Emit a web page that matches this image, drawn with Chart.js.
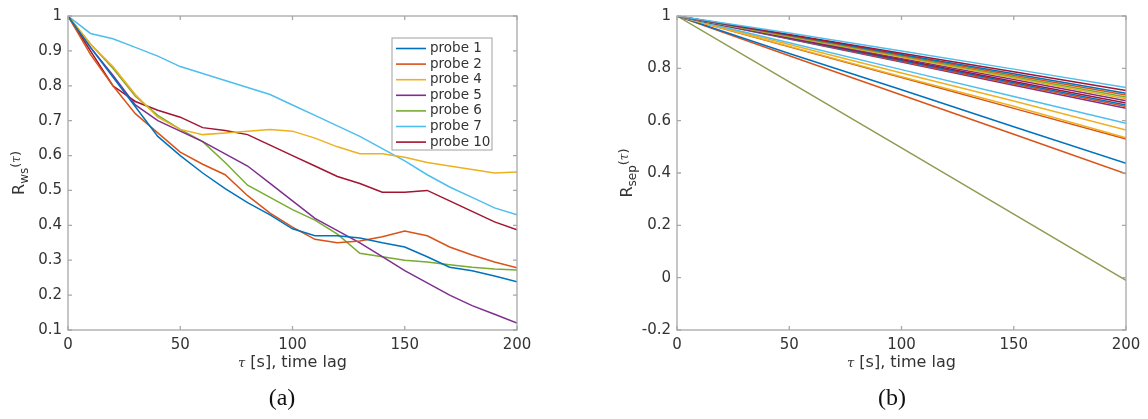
<!DOCTYPE html>
<html><head><meta charset="utf-8">
<script src="https://cdn.jsdelivr.net/npm/chart.js@4.4.0/dist/chart.umd.min.js"></script>
<style>
html,body{margin:0;padding:0;background:#fff;width:1148px;height:419px;overflow:hidden}
.c{position:absolute;top:0;width:574px;height:419px}
</style></head><body>
<div class="c" style="left:0"><canvas id="ca" width="574" height="419"></canvas></div>
<div class="c" style="left:574px"><canvas id="cb" width="574" height="419"></canvas></div>
<script>
// ---------- DATA ----------
const tau = [0,10,20,30,40,50,60,70,80,90,100,110,120,130,140,150,160,170,180,190,200];
const probeLabels = ['probe 1','probe 2','probe 4','probe 5','probe 6','probe 7','probe 10'];
const probe1  = [1,0.91,0.825,0.74,0.655,0.60,0.55,0.505,0.465,0.43,0.39,0.37,0.37,0.364,0.35,0.338,0.31,0.28,0.27,0.255,0.238];
const probe2  = [1,0.89,0.80,0.72,0.665,0.61,0.575,0.545,0.485,0.435,0.395,0.36,0.35,0.355,0.367,0.384,0.37,0.338,0.315,0.295,0.278];
const probe4  = [1,0.92,0.855,0.775,0.71,0.675,0.66,0.665,0.67,0.675,0.67,0.65,0.625,0.605,0.605,0.595,0.58,0.57,0.56,0.55,0.553];
const probe5  = [1,0.91,0.83,0.745,0.70,0.67,0.64,0.605,0.57,0.52,0.47,0.42,0.385,0.35,0.31,0.27,0.235,0.20,0.17,0.145,0.12];
const probe6  = [1,0.92,0.85,0.77,0.715,0.675,0.64,0.58,0.515,0.48,0.445,0.415,0.375,0.32,0.31,0.30,0.295,0.287,0.28,0.275,0.272];
const probe7  = [1,0.95,0.935,0.91,0.885,0.855,0.835,0.815,0.795,0.775,0.745,0.715,0.685,0.655,0.62,0.585,0.545,0.51,0.48,0.45,0.43];
const probe10 = [1,0.90,0.80,0.755,0.73,0.71,0.68,0.672,0.66,0.63,0.60,0.57,0.54,0.52,0.495,0.495,0.50,0.47,0.44,0.41,0.387];

const tauSep = [0,50,100,150,200];
const sepValues = [
  [1,0.935,0.866,0.797,0.727],
  [1,0.929,0.858,0.787,0.715],
  [1,0.927,0.853,0.779,0.705],
  [1,0.925,0.850,0.774,0.698],
  [1,0.923,0.846,0.768,0.690],
  [1,0.921,0.842,0.763,0.684],
  [1,0.919,0.838,0.757,0.676],
  [1,0.917,0.834,0.750,0.667],
  [1,0.915,0.830,0.745,0.660],
  [1,0.914,0.827,0.740,0.654],
  [1,0.912,0.824,0.735,0.647],
  [1,0.898,0.795,0.692,0.590],
  [1,0.891,0.782,0.675,0.564],
  [1,0.884,0.768,0.655,0.535],
  [1,0.882,0.765,0.647,0.530],
  [1,0.857,0.718,0.577,0.437],
  [1,0.848,0.698,0.548,0.397],
  [1,0.748,0.496,0.243,-0.01]
];
const xTicksA = {min:0,max:200,step:50};
const yTicksA = {min:0.1,max:1,step:0.1};
const yTicksB = {min:-0.2,max:1,step:0.2};

// ---------- STYLE ----------
const C = {blue:'#0072BD',orange:'#D95319',yellow:'#EDB120',purple:'#7E2F8E',green:'#77AC30',cyan:'#4DBEEE',red:'#A2142F'};
const probeColors = [C.blue,C.orange,C.yellow,C.purple,C.green,C.cyan,C.red];
const sepColors = [C.cyan,C.red,C.blue,C.orange,C.green,C.yellow,C.purple,C.red,C.blue,C.orange,C.purple,C.cyan,C.yellow,C.yellow,C.orange,C.blue,C.orange,'#8c9c50'];
const TXT = '#333333', AX = '#a8a8a8';
const FONT = '"DejaVu Sans", sans-serif';
const fmt = v => { const r = Math.round(v*100)/100; return (Object.is(r,-0) ? 0 : r).toString(); };

const frame = {
  id:'frame',
  afterDatasetsDraw(chart){
    const {ctx, chartArea:a, scales:{x,y}} = chart;
    ctx.save();
    ctx.strokeStyle = AX; ctx.lineWidth = 1.3;
    ctx.strokeRect(a.left, a.top, a.right-a.left, a.bottom-a.top);
    const L = 4;
    ctx.beginPath();
    x.ticks.forEach(t=>{const p=x.getPixelForValue(t.value);
      ctx.moveTo(p,a.bottom); ctx.lineTo(p,a.bottom-L); ctx.moveTo(p,a.top); ctx.lineTo(p,a.top+L);});
    y.ticks.forEach(t=>{const p=y.getPixelForValue(t.value);
      ctx.moveTo(a.left,p); ctx.lineTo(a.left+L,p); ctx.moveTo(a.right,p); ctx.lineTo(a.right-L,p);});
    ctx.stroke();
    const o = chart.options.plugins.frame;
    // legend
    if (o.legend) {
      const lg = o.legend;
      const ds = chart.data.datasets;
      ctx.fillStyle='#fff';
      ctx.fillRect(lg.left, lg.top, lg.width, lg.height);
      ctx.strokeStyle = '#a0a0a0'; ctx.lineWidth = 1;
      ctx.strokeRect(lg.left, lg.top, lg.width, lg.height);
      ctx.font = '13.5px ' + FONT; ctx.textBaseline='middle'; ctx.textAlign='left';
      ds.forEach((d,i)=>{
        const yy = lg.top + 10.5 + i*lg.row;
        ctx.strokeStyle = d.borderColor; ctx.lineWidth = 1.6;
        ctx.beginPath(); ctx.moveTo(lg.left+4, yy); ctx.lineTo(lg.left+34, yy); ctx.stroke();
        ctx.fillStyle = TXT; ctx.fillText(d.label, lg.left+38, yy);
      });
    }
    // x title
    const cx = (a.left+a.right)/2;
    ctx.fillStyle = TXT; ctx.textBaseline='middle'; ctx.textAlign='left';
    const fT = 'italic 13px "DejaVu Serif", serif', fN = '16px ' + FONT;
    ctx.font = fT; const wt = ctx.measureText('τ').width;
    ctx.font = fN; const rest = ' [s], time lag'; const wr = ctx.measureText(rest).width;
    let xx = cx - (wt+wr)/2;
    ctx.font = fT; ctx.fillText('τ', xx, o.xTitleY+1); xx += wt;
    ctx.font = fN; ctx.fillText(rest, xx, o.xTitleY);
    // y title
    ctx.save();
    ctx.translate(o.yTitleX, (a.top+a.bottom)/2);
    ctx.rotate(-Math.PI/2);
    const f1 = '16px ' + FONT, f2 = '12px ' + FONT, f3 = 'italic 12px "DejaVu Serif", serif', f4='13px '+FONT;
    ctx.font=f1; const w1=ctx.measureText('R').width;
    ctx.font=f2; const w2=ctx.measureText(o.sub).width;
    ctx.font=f4; const wp=ctx.measureText('(').width, wq=ctx.measureText(')').width;
    ctx.font=f3; const wtt=ctx.measureText('τ').width;
    let x0 = -(w1+w2+wp+wtt+wq)/2;
    ctx.font=f1; ctx.fillText('R',x0,0); x0+=w1;
    ctx.font=f2; ctx.fillText(o.sub,x0,5); x0+=w2;
    ctx.font=f4; ctx.fillText('(',x0,-3); x0+=wp;
    ctx.font=f3; ctx.fillText('τ',x0,-3); x0+=wtt;
    ctx.font=f4; ctx.fillText(')',x0,-3);
    ctx.restore();
    // caption
    ctx.font = '24px "Liberation Serif", serif'; ctx.textAlign='center';
    ctx.fillStyle = '#111';
    ctx.fillText(o.caption, o.capX, 399);
    ctx.restore();
  }
};

function baseOptions(yT, yWidth, rightPad, extra){
  return {
    responsive:false, devicePixelRatio:1, animation:false,
    layout:{padding:{left:0,right:rightPad,top:16,bottom:0}},
    elements:{point:{radius:0}, line:{borderWidth:1.5, tension:0}},
    plugins:{legend:{display:false}, tooltip:{enabled:false}, frame:extra},
    scales:{
      x:{type:'linear', min:xTicksA.min, max:xTicksA.max,
         ticks:{stepSize:xTicksA.step, color:TXT, font:{family:'DejaVu Sans', size:15}, padding:6, maxRotation:0, callback:fmt},
         grid:{display:false, drawTicks:false}, border:{display:false},
         afterFit(s){ s.height = 419-330; }},
      y:{type:'linear', min:yT.min, max:yT.max,
         ticks:{stepSize:yT.step, color:TXT, font:{family:'DejaVu Sans', size:15}, padding:6, callback:fmt},
         grid:{display:false, drawTicks:false}, border:{display:false},
         afterFit(s){ s.width = yWidth; }}
    }
  };
}

const pts = (xs, ys) => xs.map((t,i)=>({x:t, y:ys[i]}));
const probeData = [probe1,probe2,probe4,probe5,probe6,probe7,probe10];

new Chart(document.getElementById('ca'), {
  type:'line',
  data:{datasets: probeData.map((v,i)=>({label:probeLabels[i], data:pts(tau,v), borderColor:probeColors[i], backgroundColor:probeColors[i], fill:false}))},
  options: baseOptions(yTicksA, 68, 57, {sub:'ws', yTitleX:20, xTitleY:363, caption:'(a)', capX:282,
     legend:{left:392, top:38, width:100, height:112, row:15.6}}),
  plugins:[frame]
});

new Chart(document.getElementById('cb'), {
  type:'line',
  data:{datasets: sepValues.map((v,i)=>({label:'s'+(i+1), data:pts(tauSep,v), borderColor:sepColors[i], backgroundColor:sepColors[i], fill:false}))},
  options: baseOptions(yTicksB, 103, 22, {sub:'sep', yTitleX:54, xTitleY:363, caption:'(b)', capX:318}),
  plugins:[frame]
});
</script>
</body></html>
